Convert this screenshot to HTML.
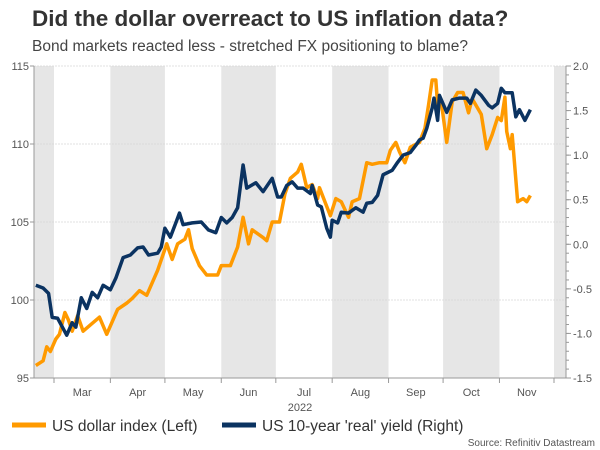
<!DOCTYPE html>
<html><head><meta charset="utf-8"><style>
body{margin:0;background:#fff;font-family:"Liberation Sans",sans-serif;}
svg{display:block}
</style></head><body>
<svg id="chart" width="600" height="450" font-family="Liberation Sans, sans-serif">
<text x="32" y="26" font-size="22.5" font-weight="bold" fill="#333">Did the dollar overreact to US inflation data?</text>
<text x="32" y="51" font-size="15.5" fill="#444">Bond markets reacted less - stretched FX positioning to blame?</text>
<g id="bands"></g><g id="grid"></g><g id="axes"></g><g id="series"></g>
<text x="300" y="411" font-size="11" fill="#555" text-anchor="middle">2022</text>
<line x1="12" y1="425" x2="46" y2="425" stroke="#ff9a00" stroke-width="5"/>
<text x="52" y="431" font-size="15.5" fill="#333">US dollar index (Left)</text>
<line x1="222" y1="425" x2="256" y2="425" stroke="#0b3361" stroke-width="5"/>
<text x="262" y="431" font-size="15.5" fill="#333">US 10-year 'real' yield (Right)</text>
<text x="595" y="446" font-size="10" fill="#555" text-anchor="end">Source: Refinitiv Datastream</text>
</svg>
<script>
const months=["Mar","Apr","May","Jun","Jul","Aug","Sep","Oct","Nov"];
const monthStartDays=[0,31,61,92,122,153,184,214,245,275];
const leftTicks=[95,100,105,110,115];
const rightTicks=[-1.5,-1.0,-0.5,0.0,0.5,1.0,1.5,2.0];
const usdDays=[-10,-6,-4,-2,1,3,6,8,10,13,16,20,25,29,35,40,43,47,51,57,62,65,68,72,74,76,80,84,90,92,97,101,104,107,109,115,117,120,124,127,130,134,136,139,142,145,146,149,152,155,158,162,164,168,172,175,179,183,185,188,190,193,196,201,204,206,208,210,211,213,216,219,222,225,228,230,235,238,241,244,246,248,249,251,252,255,258,260,262];
const usdValues=[95.8,96.1,97.0,96.7,97.5,97.8,99.2,98.7,98.0,99.0,98.0,98.4,98.9,97.8,99.4,99.8,100.1,100.6,100.3,101.9,103.6,102.6,103.6,103.9,104.5,103.3,102.2,101.6,101.6,102.2,102.2,103.4,105.3,103.6,104.5,104.0,103.8,105.0,105.0,106.8,107.8,108.2,108.7,107.2,107.4,106.5,107.2,106.3,105.4,106.5,106.3,105.3,106.3,106.5,108.8,108.7,108.8,108.8,109.6,110.1,109.5,108.8,109.8,110.1,111.0,112.5,114.1,114.1,112.5,112.7,110.1,112.7,113.3,113.3,112.0,112.9,111.9,109.7,110.6,111.7,111.5,113.0,110.8,109.7,110.6,106.3,106.5,106.3,106.7];
const yieldDays=[-10,-6,-3,-1,2,7,10,12,15,18,21,24,27,31,34,38,42,46,49,52,57,59,61,64,67,69,71,76,81,85,89,92,95,98,101,104,106,111,115,120,123,125,128,131,134,137,141,142,145,147,150,152,153,156,158,162,166,170,172,175,178,181,186,189,192,196,199,201,203,205,208,209,211,212,216,219,223,227,229,232,235,239,241,244,246,248,252,254,256,259,262];
const yieldValues=[-0.46,-0.49,-0.55,-0.82,-0.83,-1.02,-0.88,-0.93,-0.60,-0.72,-0.54,-0.60,-0.46,-0.51,-0.38,-0.15,-0.12,-0.04,-0.03,-0.12,-0.10,-0.03,0.18,0.08,0.24,0.35,0.22,0.24,0.25,0.16,0.13,0.30,0.24,0.30,0.41,0.89,0.63,0.69,0.59,0.74,0.53,0.53,0.66,0.70,0.63,0.63,0.57,0.66,0.44,0.42,0.18,0.08,0.27,0.24,0.36,0.35,0.41,0.36,0.46,0.47,0.55,0.78,0.83,0.92,1.00,1.03,1.11,1.17,1.19,1.30,1.53,1.64,1.39,1.67,1.48,1.62,1.64,1.64,1.58,1.73,1.67,1.56,1.53,1.58,1.75,1.70,1.70,1.43,1.51,1.39,1.51];

const NS="http://www.w3.org/2000/svg";
const X0=34,X1=566,Y0=66,Y1=378;
const x=d=>54+d*(500/275);
const yL=v=>Y1-(v-95)/20*(Y1-Y0);
const yR=v=>Y1-(v+1.5)/3.5*(Y1-Y0);
function mk(tag,attrs,parent){const e=document.createElementNS(NS,tag);for(const k in attrs)e.setAttribute(k,attrs[k]);document.getElementById(parent).appendChild(e);return e;}

// shaded bands: Feb, Apr, Jun, Aug, Oct, Dec
const bandEdges=[[X0,x(0)]];
for(let i=1;i<monthStartDays.length;i+=2){bandEdges.push([x(monthStartDays[i]),Math.min(X1,x(monthStartDays[i+1]!==undefined?monthStartDays[i+1]:400))]);}
bandEdges.forEach(b=>{
 const r=mk('rect',{x:b[0],y:Y0,width:b[1]-b[0],height:Y1-Y0,fill:'#e6e6e6'},'bands');
 
 
});
leftTicks.forEach(v=>{
 const l=mk('line',{x1:X0,x2:X1,y1:yL(v),y2:yL(v),stroke:'#d8d8d8','stroke-dasharray':'2,1','stroke-width':0.8},'grid');
 
 
 const t=mk('text',{x:X0-5,y:yL(v)+4,'font-size':11,fill:'#555','text-anchor':'end'},'axes');
 t.textContent=v;
 
 
 mk('line',{x1:X0-4,x2:X0,y1:yL(v),y2:yL(v),stroke:'#999'},'axes');
});
rightTicks.forEach(v=>{
 const t=mk('text',{x:X1+7,y:yR(v)+4,'font-size':11,fill:'#555'},'axes');
 t.textContent=v.toFixed(1);
 
 
 mk('line',{x1:X1,x2:X1+5,y1:yR(v),y2:yR(v),stroke:'#999'},'axes');
});
for(let v=-1.5;v<2.0;v+=0.1){mk('line',{x1:X1,x2:X1+3,y1:yR(v),y2:yR(v),stroke:'#999'},'axes');}
mk('line',{x1:X0,x2:X0,y1:Y0,y2:Y1,stroke:'#999'},'axes');
mk('line',{x1:X1,x2:X1,y1:Y0,y2:Y1,stroke:'#999'},'axes');
mk('line',{x1:X0,x2:X1,y1:Y1,y2:Y1,stroke:'#999'},'axes');
monthStartDays.forEach(d=>mk('line',{x1:x(d),x2:x(d),y1:Y1,y2:Y1+5,stroke:'#999'},'axes'));
months.forEach((m,i)=>{
 const t=mk('text',{x:(x(monthStartDays[i])+x(monthStartDays[i+1]))/2,y:396,'font-size':11,fill:'#555','text-anchor':'middle'},'axes');
 t.textContent=m;
 
 
});
const p1=mk('polyline',{points:usdDays.map((d,i)=>x(d)+','+yL(usdValues[i])).join(' '),fill:'none',stroke:'#ff9a00','stroke-width':3.5,'stroke-linejoin':'round'},'series');


const p2=mk('polyline',{points:yieldDays.map((d,i)=>x(d)+','+yR(yieldValues[i])).join(' '),fill:'none',stroke:'#0b3361','stroke-width':3.5,'stroke-linejoin':'round'},'series');


</script>
</body></html>
